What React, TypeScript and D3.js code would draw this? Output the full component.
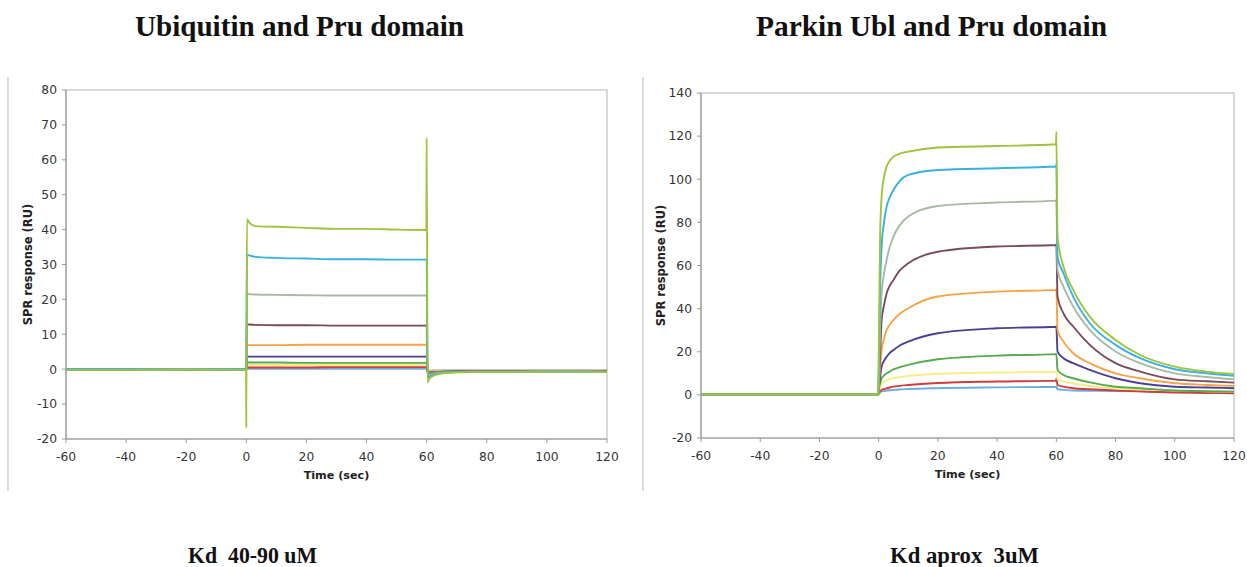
import React from "react";
import * as d3 from "d3";

// ---------- shared ticks ----------
const xTicks = [-60, -40, -20, 0, 20, 40, 60, 80, 100, 120];
const yTicksLeft = [-20, -10, 0, 10, 20, 30, 40, 50, 60, 70, 80];
const yTicksRight = [-20, 0, 20, 40, 60, 80, 100, 120, 140];

// ---------- left chart (Ubiquitin) ----------
const timeLeft = [-60, -40, -20, -0.1, 0, 0.2, 1, 3, 10, 20, 30, 40, 50, 59.9, 60, 60.3, 61, 63, 67, 75, 90, 105, 120];
const L_lightblue = [0, 0, 0, 0, 0, 0.1, 0.1, 0.1, 0.1, 0.1, 0.1, 0.1, 0.1, 0.1, 0.1, -0.4, -0.4, -0.4, -0.4, -0.4, -0.4, -0.4, -0.4];
const L_red = [0, 0, 0, 0, 0, 0.5, 0.5, 0.5, 0.5, 0.5, 0.6, 0.6, 0.6, 0.6, 0.6, -0.5, -0.5, -0.4, -0.4, -0.4, -0.4, -0.4, -0.4];
const L_yellow = [0, 0, 0, 0, 0, 1.2, 1.2, 1.2, 1.2, 1.2, 1.2, 1.2, 1.2, 1.2, 1.2, -0.6, -0.6, -0.5, -0.5, -0.5, -0.5, -0.5, -0.5];
const L_green = [0, 0, 0, 0, 0, 1.9, 1.9, 1.9, 1.9, 1.8, 1.8, 1.8, 1.8, 1.8, 1.8, -0.9, -0.8, -0.7, -0.6, -0.6, -0.6, -0.6, -0.6];
const L_purple = [0, 0, 0, 0, 0, 3.6, 3.6, 3.6, 3.6, 3.6, 3.6, 3.6, 3.6, 3.6, 3.6, -1.1, -1.0, -0.8, -0.7, -0.6, -0.6, -0.6, -0.6];
const L_orange = [0, 0, 0, 0, 0, 6.9, 6.9, 6.9, 6.9, 7.0, 7.0, 7.0, 7.0, 7.0, 7.0, -1.3, -1.1, -0.9, -0.8, -0.7, -0.7, -0.6, -0.7];
const L_brown = [0, 0, 0, 0, 0, 12.8, 12.8, 12.7, 12.6, 12.6, 12.5, 12.5, 12.5, 12.5, 12.5, -1.6, -1.3, -1.0, -0.8, -0.7, -0.7, -0.6, -0.7];
const L_gray = [0, 0, 0, 0, 0, 21.6, 21.5, 21.4, 21.3, 21.2, 21.1, 21.1, 21.1, 21.1, 21.1, -2.0, -1.6, -1.1, -0.9, -0.7, -0.7, -0.6, -0.7];
const L_cyan = [0, 0, 0, 0, 0, 32.8, 32.6, 32.2, 31.9, 31.7, 31.5, 31.5, 31.4, 31.4, 31.4, -2.8, -2.1, -1.3, -0.9, -0.7, -0.7, -0.6, -0.7];
const L_lime = [-0.2, -0.2, -0.1, -0.2, -16.8, 43, 42, 41, 40.8, 40.5, 40.2, 40.2, 40, 39.9, 66.3, -3.8, -2.6, -1.6, -1.0, -0.8, -0.8, -0.7, -0.8];

// ---------- right chart (Parkin Ubl) ----------
const timeRight = [-60, -40, -20, -0.1, 0.1, 0.5, 1, 1.8, 2.7, 3.7, 5, 7, 10, 20, 40, 59.9, 60, 60.4, 62.4, 65.7, 71.3, 80, 88.3, 100, 110.8, 120];
const R_lightblue = [0.2, 0.2, 0.2, 0.2, 0.5, 1.2, 1.6, 1.8, 2.0, 2.15, 2.3, 2.5, 2.7, 3.1, 3.5, 3.8, 3.9, 2.6, 2.3, 2.0, 1.9, 1.8, 1.6, 1.4, 1.3, 1.2];
const R_red = [0.2, 0.2, 0.2, 0.2, 0.8, 1.8, 2.3, 2.7, 3.0, 3.4, 3.8, 4.2, 4.6, 5.5, 6.2, 6.6, 7.5, 4.6, 3.8, 3.1, 2.6, 2.0, 1.6, 1.1, 0.9, 0.7];
const R_yellow = [0.2, 0.2, 0.2, 0.2, 1.5, 3.5, 5.4, 6.2, 6.8, 7.3, 7.8, 8.3, 8.8, 9.8, 10.4, 10.8, 10.9, 7.2, 6.3, 5.4, 4.1, 3.1, 2.6, 2.0, 1.7, 1.5];
const R_green = [0.2, 0.2, 0.2, 0.2, 3, 5.4, 7.7, 9, 10, 10.8, 11.8, 12.8, 13.9, 16.5, 18.2, 18.9, 19, 11.6, 9.2, 7.7, 5.8, 3.8, 3.1, 2.0, 1.7, 1.5];
const R_purple = [0.2, 0.2, 0.2, 0.2, 4, 8.5, 13.1, 15.8, 17.7, 19.4, 20.8, 22.8, 24.7, 28.6, 30.9, 31.6, 31.8, 20.1, 17, 14.7, 11.6, 7.7, 5.4, 3.8, 3.4, 3.1];
const R_orange = [0.2, 0.2, 0.2, 0.2, 6, 13.1, 20.8, 26, 30.1, 32.5, 34.7, 37.5, 40.2, 45.6, 47.9, 48.7, 49, 30.1, 24.7, 19.3, 14.7, 10, 7.7, 5.4, 4.6, 4.1];
const R_brown = [0.2, 0.2, 0.2, 0.2, 8, 19.3, 34.7, 41.5, 47.1, 50.5, 53.3, 57.5, 61, 66.4, 68.8, 69.5, 69.8, 45.6, 37.8, 31.7, 23.2, 14.7, 10.8, 7.2, 6.3, 5.7];
const R_gray = [0.2, 0.2, 0.2, 0.2, 12, 31.6, 47.1, 56, 62.6, 68.5, 73.4, 78.5, 82.7, 87.6, 89.2, 90.1, 90.5, 57.9, 50.2, 41, 30.1, 20.1, 14.7, 10, 8.3, 7.2];
const R_cyan = [0.2, 0.2, 0.2, 0.2, 20, 50, 68.8, 80, 87.3, 91.5, 95, 99, 102, 104.3, 105.1, 105.9, 107, 64.1, 56.4, 45.6, 33.2, 23.2, 17, 11.9, 10, 8.8];
const R_lime = [0.2, 0.2, 0.2, 0.2, 30, 75, 92, 101, 105.9, 108.5, 110.5, 111.8, 112.8, 114.7, 115.4, 116.2, 122, 73, 59.5, 48.7, 36.3, 25.5, 18.5, 13.1, 10.8, 9.7];

const seriesColors = ["#6cadde", "#d33b3b", "#f7ec86", "#55ab4d", "#4b3f97", "#f7a346", "#7b4a5b", "#a8baa3", "#3ab0e2", "#9cc43d"];
const leftSeries = [L_lightblue, L_red, L_yellow, L_green, L_purple, L_orange, L_brown, L_gray, L_cyan, L_lime];
const rightSeries = [R_lightblue, R_red, R_yellow, R_green, R_purple, R_orange, R_brown, R_gray, R_cyan, R_lime];

const axisFont = "'DejaVu Sans', Verdana, sans-serif";
const titleFont = "'Liberation Serif', 'Times New Roman', serif";

type PanelProps = {
  left: number; right: number; top: number; bottom: number;
  yDomain: [number, number]; yTicks: number[];
  times: number[]; series: number[][];
  frameX: number; ytitleX: number;
};

function Panel(p: PanelProps) {
  const x = d3.scaleLinear().domain([-60, 120]).range([p.left, p.right]);
  const y = d3.scaleLinear().domain(p.yDomain).range([p.bottom, p.top]);
  const line = d3.line<[number, number]>().x(d => x(d[0])).y(d => y(d[1])).curve(d3.curveMonotoneX);
  const cy = (p.top + p.bottom) / 2;
  const cx = (p.left + p.right) / 2;
  return (
    <g>
      <line x1={p.frameX} x2={p.frameX} y1={77} y2={491} stroke="#c4c4c4" strokeWidth={1.2} />
      <rect x={p.left} y={p.top} width={p.right - p.left} height={p.bottom - p.top} fill="none" stroke="#c0c0c0" strokeWidth={1.2} />
      {p.series.map((s, i) => (
        <path key={i} d={line(p.times.map((t, j) => [t, s[j]] as [number, number])) || ""}
          fill="none" stroke={seriesColors[i]} strokeWidth={1.9} strokeLinejoin="round" />
      ))}
      <line x1={p.left} x2={p.left} y1={p.top} y2={p.bottom} stroke="#9a9a9a" strokeWidth={1.2} />
      <line x1={p.left} x2={p.right} y1={p.bottom} y2={p.bottom} stroke="#9a9a9a" strokeWidth={1.2} />
      {p.yTicks.map(v => (
        <g key={"y" + v}>
          <line x1={p.left - 4} x2={p.left} y1={y(v)} y2={y(v)} stroke="#9a9a9a" />
          <text x={p.left - 9} y={y(v) + 4.3} textAnchor="end" fontFamily={axisFont} fontSize={12.3} fill="#333">{v}</text>
        </g>
      ))}
      {xTicks.map(v => (
        <g key={"x" + v}>
          <line x1={x(v)} x2={x(v)} y1={p.bottom} y2={p.bottom + 4} stroke="#9a9a9a" />
          <text x={x(v)} y={p.bottom + 22} textAnchor="middle" fontFamily={axisFont} fontSize={12.3} fill="#333">{v}</text>
        </g>
      ))}
      <text transform={`translate(${p.ytitleX},${cy}) rotate(-90)`} textAnchor="middle" fontFamily={axisFont}
        fontWeight="bold" fontSize={11.5} fill="#222">SPR response (RU)</text>
      <text x={cx} y={p.bottom + 40} textAnchor="middle" fontFamily={axisFont} fontWeight="bold" fontSize={11.2} fill="#222">Time (sec)</text>
    </g>
  );
}

export default function App() {
  return (
    <svg width={1247} height={567} style={{ position: "absolute", left: 0, top: 0, background: "#fff" }}>
      <rect x={0} y={0} width={1247} height={567} fill="#fff" />
      <text x={299.5} y={36} textAnchor="middle" fontFamily={titleFont} fontWeight="bold" fontSize={30}
        textLength={329} lengthAdjust="spacingAndGlyphs" fill="#111">Ubiquitin and Pru domain</text>
      <text x={931.5} y={36} textAnchor="middle" fontFamily={titleFont} fontWeight="bold" fontSize={30}
        textLength={351} lengthAdjust="spacingAndGlyphs" fill="#111">Parkin Ubl and Pru domain</text>
      <Panel left={66} right={607} top={90} bottom={439} yDomain={[-20, 80]} yTicks={yTicksLeft}
        times={timeLeft} series={leftSeries} frameX={8} ytitleX={31.5} />
      <Panel left={701} right={1234} top={93} bottom={438} yDomain={[-20, 140]} yTicks={yTicksRight}
        times={timeRight} series={rightSeries} frameX={643} ytitleX={664.5} />
      <text x={252.5} y={563} textAnchor="middle" fontFamily={titleFont} fontWeight="bold" fontSize={23}
        textLength={129} lengthAdjust="spacingAndGlyphs" fill="#111" style={{ whiteSpace: "pre" }}>Kd  40-90 uM</text>
      <text x={964.5} y={563} textAnchor="middle" fontFamily={titleFont} fontWeight="bold" fontSize={23}
        textLength={149} lengthAdjust="spacingAndGlyphs" fill="#111" style={{ whiteSpace: "pre" }}>Kd aprox  3uM</text>
    </svg>
  );
}
